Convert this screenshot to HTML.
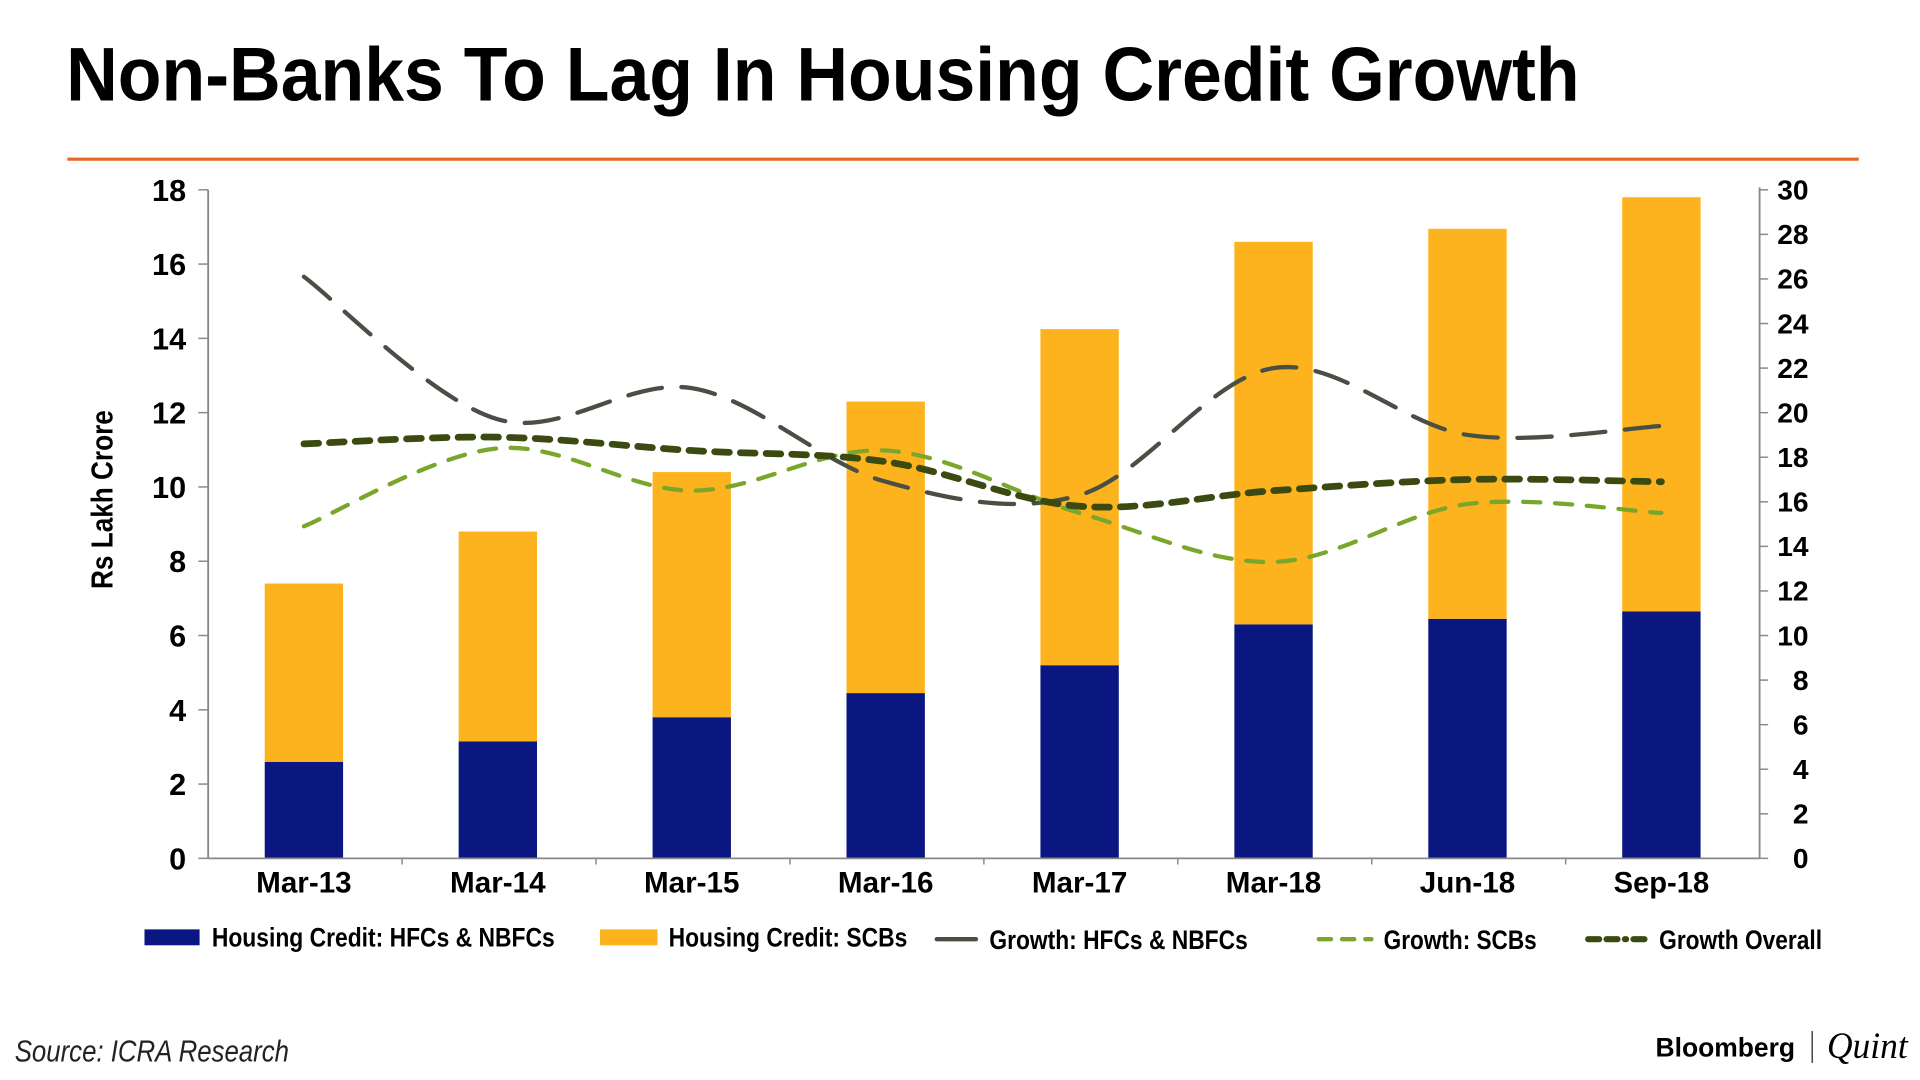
<!DOCTYPE html>
<html><head><meta charset="utf-8"><style>
html,body{margin:0;padding:0;background:#fff;width:1920px;height:1080px;overflow:hidden}
svg{display:block}
text{font-family:"Liberation Sans",sans-serif}
</style></head><body>
<svg id="chart" width="1920" height="1080" viewBox="0 0 1568 882" xmlns="http://www.w3.org/2000/svg">
<text x="54" y="82" font-size="62" font-weight="bold" textLength="1236" lengthAdjust="spacingAndGlyphs" fill="#000">Non-Banks To Lag In Housing Credit Growth</text>
<line x1="55" y1="130" x2="1518" y2="130" stroke="#e8662a" stroke-width="2.5"/>
<g id="bars"></g><g id="lines"></g><g id="axes"></g>
<text transform="translate(92,408) rotate(-90)" text-anchor="middle" font-size="25" font-weight="bold" textLength="146" lengthAdjust="spacingAndGlyphs">Rs Lakh Crore</text>
<g>
<rect x="118" y="759" width="45" height="13" fill="#0b1780"/>
<text x="173" y="773" font-size="22" font-weight="bold" textLength="280" lengthAdjust="spacingAndGlyphs">Housing Credit: HFCs &amp; NBFCs</text>
<rect x="490" y="759" width="47" height="13" fill="#fdb31e"/>
<text x="546" y="773" font-size="22" font-weight="bold" textLength="195" lengthAdjust="spacingAndGlyphs">Housing Credit: SCBs</text>
<line x1="765" y1="767" x2="797" y2="767" stroke="#4a4f45" stroke-width="3.5" stroke-linecap="round"/>
<text x="808" y="775" font-size="22" font-weight="bold" textLength="211" lengthAdjust="spacingAndGlyphs">Growth: HFCs &amp; NBFCs</text>
<line x1="1077" y1="767" x2="1120" y2="767" stroke="#7aa62c" stroke-width="3.5" stroke-dasharray="10,9" stroke-linecap="round"/>
<text x="1130" y="775" font-size="22" font-weight="bold" textLength="125" lengthAdjust="spacingAndGlyphs">Growth: SCBs</text>
<line x1="1297" y1="767" x2="1348" y2="767" stroke="#3b4a10" stroke-width="5" stroke-dasharray="9,6,9,6,1,6" stroke-linecap="round"/>
<text x="1355" y="775" font-size="22" font-weight="bold" textLength="133" lengthAdjust="spacingAndGlyphs">Growth Overall</text>
</g>
<text x="12" y="867" font-size="25" font-style="italic" textLength="224" lengthAdjust="spacingAndGlyphs" fill="#222">Source: ICRA Research</text>
<text x="1352" y="863" font-size="22" font-weight="bold" textLength="114" lengthAdjust="spacingAndGlyphs">Bloomberg</text>
<line x1="1480" y1="842" x2="1480" y2="868" stroke="#444" stroke-width="1.2"/>
<text x="1492" y="864" font-size="30" font-style="italic" textLength="66" lengthAdjust="spacingAndGlyphs" style="font-family:'Liberation Serif',serif">Quint</text>
</svg>
<script>
const categories=["Mar-13","Mar-14","Mar-15","Mar-16","Mar-17","Mar-18","Jun-18","Sep-18"];
const hfcCredit=[2.6,3.15,3.8,4.45,5.2,6.3,6.45,6.65];
const scbCredit=[4.8,5.65,6.6,7.85,9.05,10.3,10.5,11.15];
const growthHfc=[26.1,19.7,21.1,16.9,16.3,22.0,19.0,19.4];
const growthScb=[14.9,18.4,16.5,18.3,15.5,13.3,15.9,15.5];
const growthOverall=[18.6,18.9,18.3,17.8,15.8,16.5,17.0,16.9];
const leftTicks=[0,2,4,6,8,10,12,14,16,18];
const rightTicks=[0,2,4,6,8,10,12,14,16,18,20,22,24,26,28,30];

const NS="http://www.w3.org/2000/svg";
const X0=170,X1=1437,Y0=701,Y1=155;
const yL=v=>Y0-(v/18)*(Y0-Y1);
const yR=v=>Y0-(v/30)*(Y0-Y1);
const band=(X1-X0)/categories.length;
const xC=i=>X0+band*(i+0.5)-1;
const BW=64;
function mk(tag,attrs,parent){const e=document.createElementNS(NS,tag);for(const k in attrs)e.setAttribute(k,attrs[k]);parent.appendChild(e);return e;}
const gb=document.getElementById('bars'),gl=document.getElementById('lines'),ga=document.getElementById('axes');
categories.forEach((c,i)=>{
  const x=xC(i)-BW/2;
  const b1=mk('rect',{x:x,y:yL(hfcCredit[i]),width:BW,height:yL(0)-yL(hfcCredit[i]),fill:'#0b1780'},gb);
  
  
  const tot=hfcCredit[i]+scbCredit[i];
  const b2=mk('rect',{x:x,y:yL(tot),width:BW,height:yL(hfcCredit[i])-yL(tot),fill:'#fdb31e'},gb);
  
  
  const t=mk('text',{x:xC(i),y:729,'text-anchor':'middle','font-size':24,'font-weight':'bold',textLength:78,lengthAdjust:'spacingAndGlyphs'},ga);
  t.textContent=c;
  
  
});
function smooth(vals){
  const p=vals.map((v,i)=>[xC(i),yR(v)]);
  let d='M'+p[0][0]+','+p[0][1];
  for(let i=0;i<p.length-1;i++){
    const a=p[i-1]||p[i],b=p[i],c=p[i+1],e=p[i+2]||c;
    const c1=[b[0]+(c[0]-a[0])/6,b[1]+(c[1]-a[1])/6],c2=[c[0]-(e[0]-b[0])/6,c[1]-(e[1]-b[1])/6];
    d+=' C'+c1+' '+c2+' '+c;
  }
  return d;
}
const l1=mk('path',{d:smooth(growthHfc),fill:'none',stroke:'#4a4f45','stroke-width':3.5,'stroke-dasharray':'28,16','stroke-linecap':'round'},gl);


const l2=mk('path',{d:smooth(growthScb),fill:'none',stroke:'#7aa62c','stroke-width':3.5,'stroke-dasharray':'14,12','stroke-linecap':'round'},gl);


const l3=mk('path',{d:smooth(growthOverall),fill:'none',stroke:'#3b4a10','stroke-width':5.5,'stroke-dasharray':'12,9','stroke-linecap':'round'},gl);


mk('line',{x1:X0,y1:Y1,x2:X0,y2:Y0,stroke:'#888','stroke-width':1.5},ga);
mk('line',{x1:X1,y1:Y1-2,x2:X1,y2:Y0,stroke:'#888','stroke-width':1.5},ga);
mk('line',{x1:X0,y1:Y0,x2:X1,y2:Y0,stroke:'#888','stroke-width':1.5},ga);
categories.forEach((c,i)=>{if(i>0)mk('line',{x1:X0+band*i,y1:Y0,x2:X0+band*i,y2:Y0+5,stroke:'#888','stroke-width':1.2},ga);});
leftTicks.forEach(v=>{
  mk('line',{x1:X0-8,y1:yL(v),x2:X0,y2:yL(v),stroke:'#888','stroke-width':1.2},ga);
  const t=mk('text',{x:X0-18,y:yL(v)+9,'text-anchor':'end','font-size':25,'font-weight':'bold'},ga);
  t.textContent=v;
  
  
});
rightTicks.forEach(v=>{
  mk('line',{x1:X1,y1:yR(v),x2:X1+7,y2:yR(v),stroke:'#888','stroke-width':1.2},ga);
  const t=mk('text',{x:X1+40,y:yR(v)+8,'text-anchor':'end','font-size':23,'font-weight':'bold'},ga);
  t.textContent=v;
  
  
});
</script>
</body></html>
